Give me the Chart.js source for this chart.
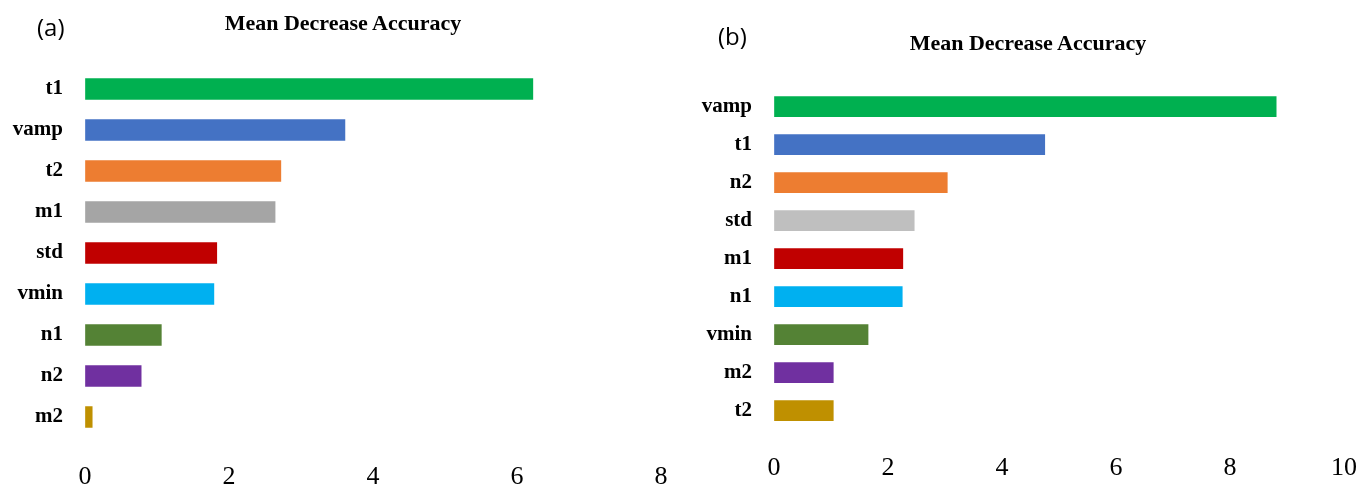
<!DOCTYPE html>
<html>
<head>
<meta charset="utf-8">
<script src="https://cdn.jsdelivr.net/npm/chart.js@4.4.0/dist/chart.umd.min.js"></script>
<style>
  body { margin: 0; background: #fff; width: 1367px; height: 488px; overflow: hidden; position: relative; }
  .panel { position: absolute; top: 0; height: 488px; }
  .tag { position: absolute; font-family: 'Open Sans', sans-serif; font-size: 24px; line-height: 24px; color: #000; }
  .title { position: absolute; width: 400px; text-align: center; font-family: 'Liberation Serif', serif;
           font-weight: bold; font-size: 22px; line-height: 22px; color: #000; }
</style>
</head>
<body>
<div class="panel" style="left:0;width:683px"><canvas id="chartA"></canvas></div>
<div class="panel" style="left:683px;width:684px"><canvas id="chartB"></canvas></div>
<div class="tag" style="left:37px;top:15px">(a)</div>
<div class="tag" style="left:718px;top:24px">(b)</div>
<div class="title" id="titleA" style="left:143px;top:11.5px"></div>
<div class="title" id="titleB" style="left:828px;top:31.5px"></div>
<script>
// Panel (a)
const labelsA = ['t1', 'vamp', 't2', 'm1', 'std', 'vmin', 'n1', 'n2', 'm2'];
const valuesA = [6.22, 3.61, 2.72, 2.64, 1.83, 1.79, 1.06, 0.78, 0.10];
const xMaxA = 8;

// Panel (b)
const labelsB = ['vamp', 't1', 'n2', 'std', 'm1', 'n1', 'vmin', 'm2', 't2'];
const valuesB = [8.81, 4.75, 3.04, 2.46, 2.26, 2.25, 1.65, 1.04, 1.04];
const xMaxB = 10;

const titleText = 'Mean Decrease Accuracy';
const xStep = 2;

// Bar colours
const colorsA = ['#00B050', '#4472C4', '#ED7D31', '#A5A5A5', '#C00000', '#00B0F0', '#548235', '#7030A0', '#BF9000'];
const colorsB = ['#00B050', '#4472C4', '#ED7D31', '#BFBFBF', '#C00000', '#00B0F0', '#548235', '#7030A0', '#BF9000'];

document.getElementById('titleA').textContent = titleText;
document.getElementById('titleB').textContent = titleText;

function makeChart(id, labels, values, colors, cfg) {
  const ctx = document.getElementById(id).getContext('2d');
  return new Chart(ctx, {
    type: 'bar',
    data: {
      labels: labels,
      datasets: [{
        data: values,
        backgroundColor: colors,
        borderWidth: 0,
        barThickness: cfg.barThickness
      }]
    },
    options: {
      indexAxis: 'y',
      responsive: true,
      maintainAspectRatio: false,
      animation: false,
      layout: { padding: { left: 0, right: cfg.padRight, top: cfg.padTop, bottom: 0 } },
      plugins: {
        legend: { display: false },
        tooltip: { enabled: false }
      },
      scales: {
        x: {
          min: 0,
          max: cfg.xMax,
          // invisible tick marks push the labels down without widening the side padding
          grid: { display: true, drawOnChartArea: false, drawTicks: true,
                  tickLength: cfg.xTickGap, tickColor: 'rgba(0,0,0,0)' },
          border: { display: false },
          ticks: {
            stepSize: xStep,
            color: '#000',
            padding: 0,
            font: { family: 'Liberation Serif', size: 26, lineHeight: 1.2 }
          },
          afterFit: (scale) => { scale.height = cfg.xHeight; }
        },
        y: {
          grid: { display: false, drawTicks: false },
          border: { display: false },
          ticks: {
            color: '#000',
            padding: 22,
            font: { family: 'Liberation Serif', weight: 'bold', size: 21 }
          },
          afterFit: (scale) => { scale.width = cfg.yWidth; }
        }
      }
    }
  });
}

makeChart('chartA', labelsA, valuesA, colorsA, {
  xMax: xMaxA, barThickness: 21,
  padRight: 22, padTop: 68.5, yWidth: 85,
  xHeight: 50.5, xTickGap: 24
});

makeChart('chartB', labelsB, valuesB, colorsB, {
  xMax: xMaxB, barThickness: 20,
  padRight: 23, padTop: 87.7, yWidth: 91,
  xHeight: 58.3, xTickGap: 22.7
});
</script>
</body>
</html>
